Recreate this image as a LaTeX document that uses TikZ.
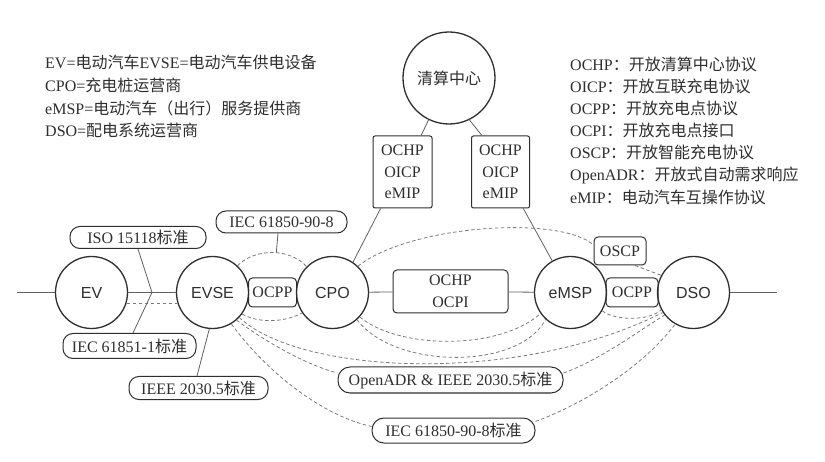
\documentclass[tikz,border=0pt]{standalone}
\usepackage{fontspec}
\setmainfont{Liberation Serif}
\setsansfont{Liberation Sans}
\newfontfamily\cjk{Noto Sans CJK SC}
\definecolor{ink}{HTML}{2E2E2E}
\definecolor{lk}{HTML}{606060}
\definecolor{dk}{HTML}{7A7A7A}
\begin{document}
\begin{tikzpicture}[x=1pt,y=-1pt,
  font=\fontsize{16}{21.5}\selectfont, text=ink,
  ent/.style={circle,draw=ink,line width=1.3pt,minimum size=72pt,inner sep=0pt,font=\sffamily\fontsize{16}{19}\selectfont},
  tag/.style={draw=ink,line width=1pt,rounded corners=10pt,minimum height=23pt,inner xsep=2pt,inner ysep=0pt},
  pbox/.style={draw=ink,line width=1pt,rounded corners=4pt,inner sep=1pt,align=center},
  link/.style={draw=lk,line width=0.8pt},
  dl/.style={draw=dk,line width=0.8pt,dash pattern=on 3.5pt off 2.5pt},
  legend/.style={anchor=west,inner sep=0pt}]
\useasboundingbox (0,0) rectangle (825,462);

% entities
\node[ent] (ev) at (91.5,292.5) {EV};
\node[ent] (evse) at (212.5,292.5) {EVSE};
\node[ent] (cpo) at (332.5,292.5) {CPO};
\node[ent] (emsp) at (570.5,292.5) {eMSP};
\node[ent] (dso) at (693.5,292.5) {DSO};
\node[ent,minimum size=92pt,font=\cjk\fontsize{16}{19}\selectfont] (clr) at (449,78) {清算中心};

% protocol boxes
\node[pbox,minimum width=48pt,minimum height=29pt] (ocpp1) at (272.5,292.5) {OCPP};
\node[pbox,minimum width=52pt,minimum height=29pt] (ocpp2) at (632,292.5) {OCPP};
\node[pbox,minimum width=52pt,minimum height=28pt] (oscp) at (620,251) {OSCP};
\node[pbox,minimum width=115pt,minimum height=43pt] (mid) at (450.5,291.5) {OCHP\\OCPI};
\node[pbox,minimum width=59pt,minimum height=72pt,rounded corners=2pt] (lbox) at (402.5,172) {OCHP\\OICP\\eMIP};
\node[pbox,minimum width=58pt,minimum height=72pt,rounded corners=2pt] (rbox) at (500.5,172) {OCHP\\OICP\\eMIP};

% standard tags
\node[tag,minimum width=136pt,minimum height=22pt] (iso) at (138,237.5) {ISO 15118{\cjk 标准}};
\node[tag,minimum width=133pt,minimum height=25pt] (iec1) at (129.5,346) {IEC 61851-1{\cjk 标准}};
\node[tag,minimum width=139pt,minimum height=23pt] (ieee) at (198.5,388) {IEEE 2030.5{\cjk 标准}};
\node[tag,minimum width=131pt,minimum height=22pt] (iec2) at (281.5,222) {IEC 61850-90-8};
\node[tag,minimum width=225pt,minimum height=26pt,rounded corners=12pt] (adr) at (450.5,380) {OpenADR \& IEEE 2030.5{\cjk 标准}};
\node[tag,minimum width=163pt,minimum height=25pt,rounded corners=12pt] (iec3) at (453.5,430.5) {IEC 61850-90-8{\cjk 标准}};

% free ends
\coordinate (L) at (17,292.5);
\coordinate (R) at (777,292.5);
\coordinate (J) at (152,292.5);

% solid links
\draw[link] (L) -- (ev);
\draw[link] (ev) -- (evse);
\draw[link] (cpo) -- (mid);
\draw[link] (mid) -- (emsp);
\draw[link] (dso) -- (R);
\draw[link] (iso.south) -- (J);
\draw[link] (J) -- ([xshift=3.5pt]iec1.north);
\draw[link] (evse.-95) -- ([xshift=-1.5pt]ieee.north);
\draw[link] (clr.-116) -- (lbox.63);
\draw[link] (clr.-64) -- (rbox.117);
\draw[link] (lbox.-121) -- (cpo.56);
\draw[link] (rbox.-58) -- (emsp.120);

% dashed links
\draw[dl] (ev.-17) -- (evse.-163);
\draw[dl] (evse.47) .. controls (255,248) and (290,248) .. coordinate[pos=0.55] (K) (cpo.135);
\draw[link] ([xshift=-3.5pt]iec2.south) -- (K);
\draw[dl] (evse.-36) .. controls (258,323) and (283,323) .. (cpo.-146);
\draw[dl] (cpo.46) .. controls (410,225) and (560,215) .. ([yshift=6pt]oscp.west);
\draw[dl] ([xshift=15pt]oscp.south) -- (dso.152);
\draw[dl] (emsp.-30) .. controls (615,321) and (650,321) .. (dso.-152);
\draw[dl] (cpo.-42) .. controls (400,350) and (500,350) .. (emsp.-145);
\draw[dl] (cpo.-48) .. controls (395,370) and (520,370) .. (emsp.-133);
\draw[dl] (evse.-43) .. controls (300,375) and (520,385) .. (dso.-147);
\draw[dl] (evse.-49) .. controls (270,345) and (310,366) .. ([yshift=7pt]adr.west);
\draw[dl] ([yshift=7pt]adr.east) .. controls (600,360) and (640,330) .. (dso.-142);
\draw[dl] (evse.-59) .. controls (265,370) and (320,415) .. ([yshift=4pt]iec3.west);
\draw[dl] ([yshift=9pt]iec3.east) .. controls (580,405) and (640,370) .. (dso.-120);

% legends
\node[legend] (lg1) at (45,62) {EV={\cjk 电动汽车}EVSE={\cjk 电动汽车供电设备}};
\node[legend] (lg2) at (45,85) {CPO={\cjk 充电桩运营商}};
\node[legend] (lg3) at (45,108) {eMSP={\cjk 电动汽车（出行）服务提供商}};
\node[legend] (lg4) at (45,130) {DSO={\cjk 配电系统运营商}};

\node[legend] (rg1) at (570,64) {OCHP{\cjk ：开放清算中心协议}};
\node[legend] (rg2) at (570,86) {OICP{\cjk ：开放互联充电协议}};
\node[legend] (rg3) at (570,108) {OCPP{\cjk ：开放充电点协议}};
\node[legend] (rg4) at (570,130) {OCPI{\cjk ：开放充电点接口}};
\node[legend] (rg5) at (570,152) {OSCP{\cjk ：开放智能充电协议}};
\node[legend] (rg6) at (570,175) {OpenADR{\cjk ：开放式自动需求响应}};
\node[legend] (rg7) at (570,197) {eMIP{\cjk ：电动汽车互操作协议}};
\end{tikzpicture}
\end{document}
